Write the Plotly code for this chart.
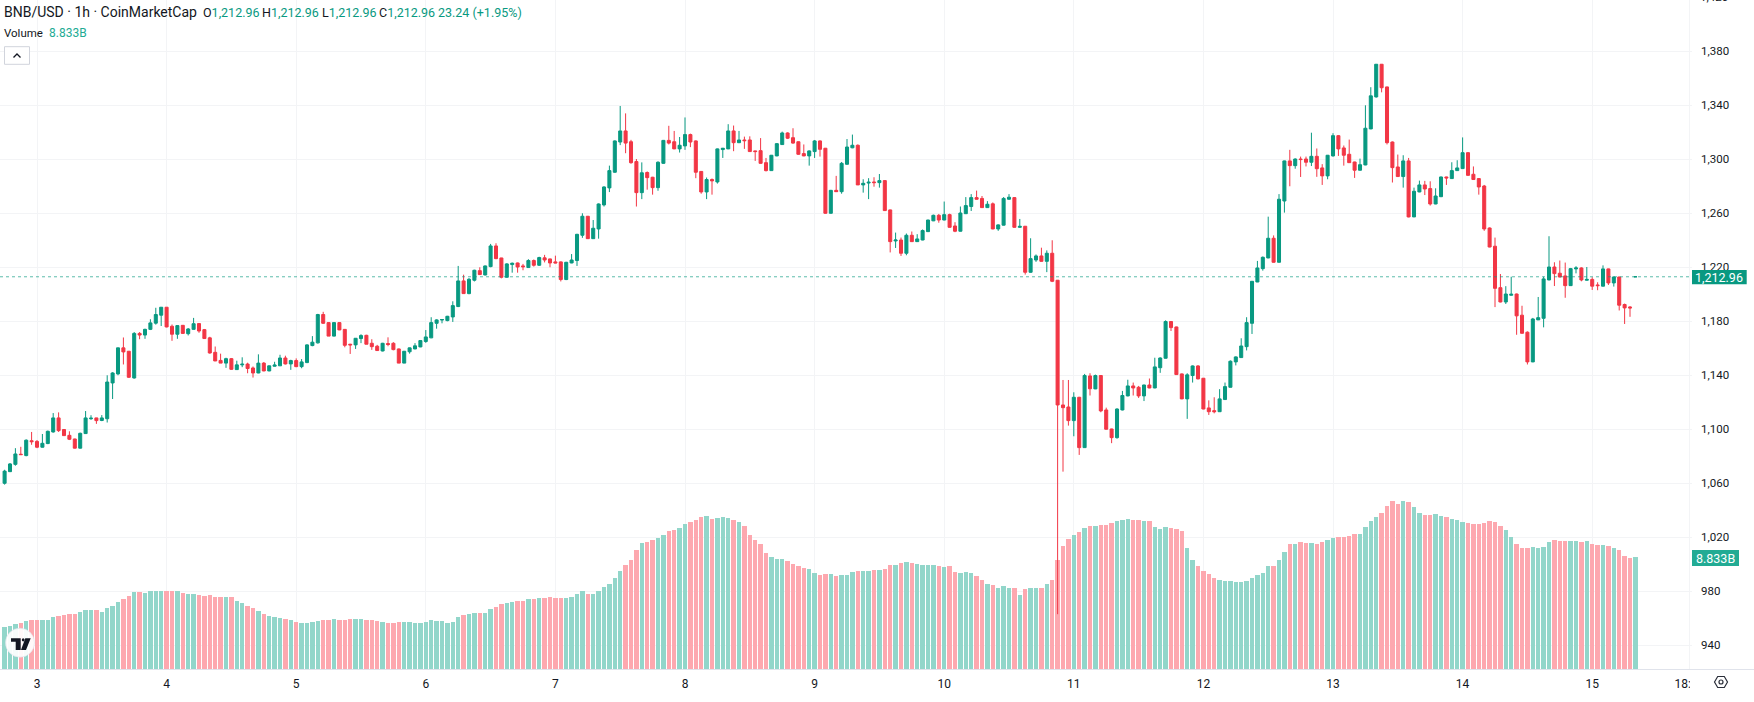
import pandas as pd
import plotly.graph_objects as go

START = "2025-10-02 18:00"

opens = [
1060,1068.6,1074,1081.5,1080.5,1091.5,1091,1086.7,1089.4,1098,
1108.4,1099.8,1095.5,1092.8,1086,1096.8,1107.8,1108.4,1106.5,1107.8,
1134.3,1141,1160.3,1157.8,1138,1171,1169.8,1174,1178.6,1184.5,
1190.4,1176.3,1170.4,1177,1170.8,1174,1178.3,1173.8,1167.7,1157,
1151,1149,1152.3,1144.2,1147.7,1148.3,1145.4,1141.7,1149,1143.2,
1146.7,1147,1152.8,1148.4,1150.9,1146.4,1149.4,1162,1164,1185,
1179,1169,1179,1174,1163,1162.5,1167.2,1169.6,1163.7,1161.5,
1158,1163.5,1163.7,1159.5,1149,1157.4,1159.5,1161,1165,1167.7,
1178.5,1180.9,1180.5,1183.2,1190.9,1209.9,1200.5,1210.4,1217.5,1214.3,
1220.5,1235.8,1226.9,1212.6,1222,1223.2,1221,1219.8,1225,1221.5,
1227,1226.2,1224,1224,1210.9,1223.2,1225,1243.7,1257.8,1241.2,
1248.4,1266.2,1278.8,1290.4,1312.8,1321,1313,1298.3,1275.3,1290.2,
1286.7,1279,1297,1314,1313,1307.7,1309.9,1318.3,1313.6,1291,
1275.8,1285,1283.2,1307.2,1307.7,1321,1312.3,1314.3,1314.3,1306.2,
1306.4,1297.5,1291.6,1302.5,1310.9,1319.5,1316,1313,1304.2,1302.5,
1305.7,1313.6,1308.2,1260,1277,1276,1296.3,1308.5,1310.4,1281,
1282.4,1283.2,1282.7,1284.2,1262.5,1239.5,1240.2,1230.4,1243.7,1239,
1240.2,1246.4,1254.4,1258.5,1255,1259,1250.6,1246.7,1259.7,1265,
1271.6,1271,1264.2,1267,1248.4,1251.2,1270.4,1271.6,1249.6,1250.4,
1216.3,1225.4,1228.4,1224.4,1230.4,1210.4,1118,1116.5,1106.4,1123.7,
1086.4,1139.5,1129.9,1139.8,1114.3,1100.2,1093.8,1114.3,1124.7,1132.1,
1131.1,1124.7,1132.8,1130.6,1145.6,1152.6,1179.8,1175.8,1141,1122.5,
1139.8,1146.9,1137.8,1115.8,1113.8,1113,1122,1131.1,1149.9,1153.1,
1161.2,1178.5,1209.1,1219,1226.9,1241.5,1223.7,1269.1,1298.8,1295.3,
1300.2,1300.2,1297.8,1302.2,1293.6,1287.7,1302.5,1317.5,1308.4,1303.7,
1298,1291.9,1295.8,1322.5,1346.2,1370.4,1353.6,1312.8,1294.3,1287.2,
1298.8,1257.3,1275.8,1281,1278.3,1266.9,1272.3,1286.9,1285.7,1291.6,
1293.1,1304.9,1288.9,1285.7,1280.2,1249.1,1235.6,1204.9,1194.3,1199.3,
1200.2,1184.5,1171.9,1149.9,1181,1182.2,1210.6,1220.2,1215.6,1213.6,
1206.4,1218.8,1219.5,1210.4,1211,1206.9,1206,1218.8,1208.4,1212.8,
1192.4,1190.6,1212.96]

closes = [
1069,1074.3,1081.7,1081.2,1091.9,1090.8,1086.7,1089.6,1098.5,1108.4,
1099,1095.3,1092.6,1086,1097,1108.4,1108.2,1106.4,1108.4,1135,
1141.7,1160.3,1157.3,1138.5,1171,1169.8,1174,1178.8,1185,1190.4,
1175.8,1170.4,1176.8,1171,1174.3,1178.2,1172.8,1167.2,1156.5,1150.6,
1149,1152.3,1144.4,1147.7,1148.2,1145,1141.7,1149,1143.2,1147,
1147.6,1152.8,1148.4,1150.9,1146.4,1149.9,1162.5,1164.5,1185,1178.5,
1169,1179,1173.6,1162.2,1162.5,1167.4,1169.4,1163,1161.2,1158.3,
1163.7,1162.8,1159,1149,1157.8,1160.3,1161.8,1165.7,1168.4,1179,
1181,1181.3,1183.7,1191.6,1209.9,1200.5,1211.1,1217.8,1214.6,1221,
1235.8,1226.4,1212.6,1222.5,1223,1220.2,1220.4,1225,1221.5,1227.2,
1225.4,1223.2,1223.2,1210.9,1223.7,1225.4,1244.4,1257.8,1241.2,1248.9,
1266.9,1279.5,1291.6,1313.6,1321,1312,1297.5,1275.3,1290,1286.4,
1279,1297.8,1314,1312,1307.7,1310.4,1318.3,1312.8,1290.4,1275.8,
1285,1284,1307.7,1308.2,1321,1312.3,1314.3,1313.8,1305.7,1305.7,
1297,1291.6,1303,1311.6,1319.5,1315.6,1312,1303.7,1302.5,1306.2,
1313.6,1307.4,1260,1277,1276,1297,1309.1,1310.4,1281,1282.2,
1283,1282.7,1284.2,1262,1239,1240.2,1230.4,1243.7,1239,1241,
1247.2,1255,1258.5,1255,1259,1249.6,1246.7,1260.2,1265.7,1271.6,
1270.4,1264.2,1266.7,1248.4,1251.4,1271,1271.9,1249.6,1250.3,1216.3,
1226.4,1228.4,1224.4,1230.4,1209.6,1118,1116,1106.4,1123.7,1086.4,
1139.8,1130,1139.8,1113.6,1100,1093.8,1115,1125,1132.1,1130.6,
1124.7,1132.8,1130.6,1146.2,1152.8,1179.8,1175.3,1140.5,1122.5,1140.3,
1146.9,1137.3,1115,1113,1113,1122.5,1131.6,1150.4,1153.6,1161.7,
1179,1209.6,1219.5,1227.4,1241.5,1223.7,1270.4,1298.8,1295.3,1300.2,
1299.8,1297.8,1302.2,1293,1287.7,1303,1317.5,1307.7,1303,1297.5,
1291.9,1296,1323,1347,1370.4,1353,1312.3,1293.8,1287.2,1298.8,
1257.3,1276.3,1281,1278,1266.9,1272.8,1286.9,1286.2,1291.6,1293.6,
1304.9,1288.1,1285,1279.5,1248.4,1235,1204.4,1194.3,1200.2,1200,
1184,1171.1,1149.9,1181.7,1182.7,1211.4,1220.2,1215.3,1212.8,1206.4,
1219,1219.5,1210.6,1211,1206,1206.4,1218.8,1208.4,1212.8,1191.9,
1189.9,1189.9,1212.96]

highs = [
1070,1075,1086,1087,1092.5,1098,1092,1096.5,1099,1112,
1112.5,1100,1098.5,1093,1097.5,1113.5,1110.4,1108.5,1110.5,1140,
1142.3,1160.5,1168,1158,1172,1172,1174.5,1181.5,1190,1190.5,
1190.5,1177.6,1177,1177.2,1175,1182.5,1178.5,1174.3,1168.5,1161.3,
1156,1153,1152.8,1150.8,1153.3,1149.3,1146.5,1155.5,1149.8,1147.2,
1150,1155.2,1154.5,1151.5,1152.5,1152,1163,1169,1185.5,1187,
1179.2,1179.2,1179.3,1174.2,1163.3,1167.6,1170.4,1170,1166.7,1162.5,
1164,1168.1,1164.5,1159.8,1158,1160.5,1163.8,1166,1173.5,1183,
1181.5,1181.5,1184,1194.8,1221,1214.5,1212,1218.2,1220,1221.3,
1237.3,1237.8,1227,1223,1223.5,1223.5,1222.5,1226,1225.8,1227.8,
1229.2,1226.4,1228.6,1224.3,1224,1229.8,1244.8,1260,1258,1255,
1267.3,1280,1295.3,1314,1339.5,1334,1314.4,1300.2,1297.7,1291,
1287,1298.5,1314.3,1324.8,1321,1316.5,1331,1319,1314,1291.2,
1286.5,1285.8,1308,1308.4,1326,1325,1321,1316.8,1317,1306.4,
1315.7,1301,1303.2,1312,1320.5,1320,1323,1313.2,1311,1306.6,
1314.3,1314,1308.4,1277.3,1287.7,1298,1315,1318.3,1311,1285.2,
1286,1286.7,1289.1,1284.4,1262.7,1245.7,1242,1245,1246.5,1244.5,
1248,1255.2,1259,1259.5,1268.7,1259.7,1253.4,1265,1272,1274.2,
1276.8,1272.8,1269,1268,1251.8,1272,1274.2,1272,1255.8,1250.6,
1241.5,1229.5,1234.5,1232.5,1240,1210.6,1136.5,1136.5,1127.4,1124,
1141,1141.5,1140.5,1140,1116,1100.4,1115.5,1128.4,1136.7,1134.6,
1132.1,1133,1137.6,1153,1153.3,1180.7,1180,1176,1141.3,1141.5,
1147.3,1147.5,1138,1121.4,1123.7,1129.7,1134.6,1151,1154,1167.4,
1183,1209.8,1224.7,1228,1257.5,1243.6,1274.2,1299,1307,1300.7,
1302,1302,1319.7,1308,1296.4,1303.2,1319.3,1318,1310.2,1314.6,
1298.2,1300.5,1340,1353.4,1370.6,1370.6,1353.8,1313.2,1303.5,1303,
1301,1279,1284.2,1284,1283.7,1278.5,1287.2,1287.1,1297.8,1299.3,
1316.2,1305.2,1294.7,1286,1281,1249.5,1242,1215,1206,1213,
1200.5,1191.5,1172.5,1182.5,1198,1213,1243,1223.7,1225,1223.5,
1219.5,1220.8,1220,1220.2,1212.6,1208.9,1221.4,1219,1213.2,1213,
1193.1,1191.2,1212.96]

lows = [
1059,1068.3,1073,1081,1080,1088.5,1086,1086.5,1089,1097.5,
1098,1095,1092,1085.8,1085.8,1096.5,1107,1104,1106,1105,
1122.4,1140,1148,1138,1137.5,1166.7,1167,1173.5,1177.5,1176.5,
1175.5,1165.5,1167,1171,1169.5,1173.8,1171.5,1167,1156,1150.5,
1149,1145.5,1144,1144,1146,1141.5,1138.3,1141.5,1143,1143,
1146.5,1147,1148,1144,1146,1145.2,1149,1161.5,1163.5,1178,
1169,1168.8,1173.4,1160.7,1155.8,1159.5,1163.8,1163,1158.8,1158,
1157.7,1161.5,1158.5,1149,1149,1156,1159.3,1160.8,1164,1167.5,
1174.5,1178.5,1180,1179.5,1190.5,1200.3,1200,1209.5,1214.3,1214,
1220,1226,1211.8,1212.4,1216,1216,1217.8,1219.5,1220.5,1221,
1223.6,1220,1223,1209.5,1210.5,1223,1221,1241.8,1241,1241,
1241.2,1265,1275.7,1290,1310.5,1304.5,1296.7,1265,1270.5,1277.5,
1273.8,1276.7,1296.7,1311,1307.5,1305,1307,1309,1286,1274.5,
1270.5,1273.8,1282,1301,1307.5,1306,1312,1307.7,1305.5,1298.8,
1296.8,1291,1291.4,1302.3,1310.7,1315,1311.5,1303.3,1302.3,1295.3,
1301,1302,1259.7,1259.8,1275.8,1274.5,1296,1308.2,1281,1275.3,
1270.5,1279.7,1279,1261.7,1231,1234.3,1228.4,1228.9,1238.8,1238.8,
1240,1246.2,1254.2,1253,1254.8,1249.4,1246,1246.5,1259.5,1261.7,
1270.2,1264,1264,1248.2,1247,1251,1270,1249.4,1249.3,1214.6,
1216,1224,1224.2,1216.4,1209,963,1068.6,1102.7,1094.8,1081,
1086.2,1125,1129.7,1112.6,1099.8,1089.7,1093,1114,1124.4,1125,
1123.2,1120.9,1130.4,1130.4,1141.8,1152.4,1172.8,1140.3,1122.3,1107.7,
1134.6,1137,1114.8,1110.6,1111.8,1112.8,1121.8,1131,1147.3,1153,
1158.4,1170.6,1209,1217.5,1226.7,1223.5,1223.5,1260.5,1280,1293,
1286.9,1294.7,1295,1287,1281,1285.2,1302,1302.5,1295.3,1297.3,
1286.2,1291.7,1295.6,1322.3,1345.7,1349.6,1311,1282.8,1287,1279,
1257,1257.2,1275.6,1273.5,1265.7,1266.7,1272,1281,1285.5,1291.4,
1293,1287.8,1284.8,1273.8,1247,1234.8,1190.5,1194,1192.8,1199,
1170,1170.9,1148,1149.7,1181,1175.5,1210.4,1206.1,1212.6,1197.4,
1206.2,1215.5,1209.6,1210.2,1203.2,1203,1205.8,1206.9,1205.7,1188,
1178,1183.3,1212.96]

volumes_b = [
3.32,3.37,3.56,3.64,3.77,3.87,3.87,3.87,3.87,4.11,
4.19,4.27,4.35,4.35,4.48,4.64,4.64,4.64,4.48,4.82,
4.98,5.27,5.53,5.77,6.06,6.06,5.98,6.14,6.14,6.14,
6.14,6.19,6.19,5.98,5.90,5.90,5.85,5.77,5.85,5.69,
5.69,5.69,5.69,5.40,5.19,4.98,4.82,4.56,4.35,4.19,
4.11,4.06,3.93,3.85,3.72,3.64,3.64,3.72,3.77,3.85,
3.85,3.98,3.85,3.85,3.93,3.93,3.93,3.85,3.85,3.77,
3.72,3.64,3.64,3.72,3.72,3.72,3.64,3.64,3.72,3.85,
3.77,3.77,3.64,3.72,4.11,4.27,4.35,4.43,4.43,4.43,
4.72,4.90,5.11,5.19,5.27,5.40,5.40,5.53,5.53,5.61,
5.61,5.69,5.61,5.61,5.61,5.69,5.90,6.14,5.90,5.90,
6.19,6.48,6.75,7.19,7.75,8.25,8.62,9.41,9.96,10.04,
10.17,10.38,10.59,10.88,11.01,11.15,11.46,11.59,11.80,12.02,
12.09,11.88,11.94,12.02,11.94,11.80,11.59,11.30,10.59,10.17,
9.88,9.17,8.83,8.67,8.67,8.54,8.33,8.12,7.96,7.88,
7.59,7.46,7.54,7.54,7.33,7.40,7.46,7.67,7.75,7.75,
7.75,7.83,7.83,7.88,8.25,8.25,8.38,8.46,8.38,8.33,
8.25,8.25,8.25,8.17,8.09,8.12,7.67,7.59,7.67,7.59,
7.33,7.04,6.75,6.61,6.40,6.53,6.40,6.40,5.82,6.32,
6.40,6.40,6.40,6.69,7.04,8.62,9.75,10.30,10.59,10.80,
11.17,11.30,11.30,11.38,11.38,11.52,11.73,11.80,11.88,11.80,
11.80,11.73,11.73,11.23,11.09,11.23,11.17,11.09,10.88,9.54,
8.62,8.12,7.75,7.48,7.19,7.04,6.96,6.96,6.90,6.90,
6.96,7.19,7.46,7.62,8.12,8.17,8.62,9.25,9.88,9.88,
10.04,9.96,9.96,9.88,10.04,10.17,10.38,10.46,10.46,10.51,
10.67,10.67,11.23,11.73,12.02,12.31,12.86,13.31,13.07,13.31,
13.23,12.81,12.31,12.15,12.15,12.23,12.09,12.02,11.88,11.80,
11.59,11.52,11.44,11.44,11.52,11.67,11.59,11.30,10.96,10.46,
9.88,9.54,9.54,9.67,9.54,9.67,10.04,10.17,10.09,10.09,
10.09,10.09,10.04,10.09,9.88,9.80,9.80,9.75,9.54,9.38,
8.96,8.75,8.833]

day_ticks = ["2025-10-%02d" % d for d in range(3, 16)] + ["2025-10-15 18:00"]
day_labels = [str(d) for d in range(3, 16)] + ["18:00"]
price_ticks = list(range(940, 1381, 40))
price_labels = [f"{p:,}" for p in price_ticks]
last_price = 1212.96

assert len({len(opens), len(closes), len(highs), len(lows), len(volumes_b)}) == 1, \
    (len(opens), len(closes), len(highs), len(lows), len(volumes_b))

W, H, PW, PH = 1754, 702, 1692, 669
GREEN, RED = "#089981", "#F23645"
TEAL = "#22AB94"
DARK = "#131722"
GRID = "#F3F4F6"
FONT = "Roboto"

def px(x):
    return x / PW

def py(y):
    return 1 - y / PH

times = pd.date_range(START, periods=len(opens), freq="h")
vol_colors = ["#92D6CA" if c >= o else "#FDA8AF" for o, c in zip(opens, closes)]
x_start = pd.Timestamp(START) + pd.Timedelta(hours=-0.852)
x_end = pd.Timestamp(START) + pd.Timedelta(hours=312.48)

fig = go.Figure()
fig.add_trace(go.Bar(x=times, y=volumes_b, marker=dict(color=vol_colors, line=dict(width=0)),
                     width=0.82 * 3600000, yaxis="y", xaxis="x", showlegend=False, hoverinfo="skip"))
fig.add_trace(go.Candlestick(x=times, open=opens, high=highs, low=lows, close=closes, yaxis="y2", xaxis="x",
                             increasing=dict(line=dict(color=GREEN, width=1), fillcolor=GREEN),
                             decreasing=dict(line=dict(color=RED, width=1), fillcolor=RED),
                             whiskerwidth=0, showlegend=False, hoverinfo="skip"))

shapes = []
def rect(x0, y0, x1, y1, fill, line=None, lw=0):
    shapes.append(dict(type="rect", xref="paper", yref="paper", x0=px(x0), x1=px(x1), y0=py(y1), y1=py(y0),
                       fillcolor=fill, line=dict(color=line or fill, width=lw), layer="above"))
def path(points, fill=None, line=None, lw=0, close=True):
    d = "M " + " L ".join(f"{px(a):.6f},{py(b):.6f}" for a, b in points) + (" Z" if close else "")
    shapes.append(dict(type="path", xref="paper", yref="paper", path=d, fillcolor=fill or "rgba(0,0,0,0)",
                       line=dict(color=line or "rgba(0,0,0,0)", width=lw), layer="above"))

# last price line
shapes.append(dict(type="line", xref="paper", yref="y2", x0=0, x1=1, y0=last_price, y1=last_price,
                   line=dict(color=GREEN, width=1, dash="dot"), opacity=0.65, layer="above"))
# clip of the time scale under the price scale + its rule
rect(1690, 670.2, W, H, "white")
shapes.append(dict(type="line", xref="paper", yref="paper", x0=1, x1=W / PW, y0=py(669.5), y1=py(669.5),
                   line=dict(color="#E0E3EB", width=1), layer="above"))
# price labels
rect(1692, 270, 1746.7, 284.3, GREEN)
rect(1692, 550, 1739, 566, TEAL)
# collapse button
shapes.append(dict(type="rect", xref="paper", yref="paper", x0=px(4.5), x1=px(29.5), y0=py(64.3), y1=py(46.7),
                   fillcolor="white", line=dict(color="#D1D4DC", width=1), layer="above"))
path([(13.5, 57.5), (17, 54), (20.5, 57.5)], line="#131722", lw=1.3, close=False)
# settings icon
path([(1714.5, 682), (1717.7, 676.5), (1724.3, 676.5), (1727.5, 682), (1724.3, 687.5), (1717.7, 687.5)],
     line="#2A2E39", lw=1.2)
shapes.append(dict(type="circle", xref="paper", yref="paper", x0=px(1719), x1=px(1723), y0=py(684), y1=py(680),
                   line=dict(color="#2A2E39", width=1.2), fillcolor="white", layer="above"))
# logo
shapes.append(dict(type="circle", xref="paper", yref="paper", x0=px(5.5), x1=px(34.5), y0=py(657.2), y1=py(628.2),
                   fillcolor="rgba(255,255,255,0.93)", line=dict(color="rgba(224,227,235,0.6)", width=1), layer="above"))
path([(11, 638.3), (20.7, 638.3), (20.7, 650), (15.7, 650), (15.7, 641.7), (11, 641.7)], fill=DARK)
path([(25.3, 638.3), (30.7, 638.3), (26, 650), (21, 650)], fill=DARK)
shapes.append(dict(type="circle", xref="paper", yref="paper", x0=px(21.8), x1=px(24.6), y0=py(641.4), y1=py(638.3),
                   fillcolor=DARK, line=dict(width=0), layer="above"))

def note(x, y, text, color=DARK, size=12.5, xanchor="left"):
    return dict(xref="paper", yref="paper", x=px(x), y=py(y), text=text, showarrow=False, xanchor=xanchor,
                yanchor="middle", font=dict(family=FONT, size=size, color=color), borderpad=0, borderwidth=0)

annotations = [
    note(4, 12, "BNB/USD · 1h · CoinMarketCap", size=14),
    note(203, 12, f'O<span style="color:{GREEN}">1,212.96</span>'),
    note(262, 12, f'H<span style="color:{GREEN}">1,212.96</span>'),
    note(322, 12, f'L<span style="color:{GREEN}">1,212.96</span>'),
    note(379, 12, f'C<span style="color:{GREEN}">1,212.96</span>'),
    note(438, 12, "23.24 (+1.95%)", color=GREEN),
    note(4, 33, "Volume", size=11.5),
    note(48.5, 33, "8.833B", color=TEAL, size=12),
    note(1699.5, -2.7, "1,420", color=DARK, size=11.5),
    note(1719.3, 277.2, "1,212.96", color="white", size=12.5, xanchor="center"),
    note(1715.5, 558, "8.833B", color="white", size=12.5, xanchor="center"),
]

fig.update_layout(
    width=W, height=H, margin=dict(l=0, r=W - PW, t=0, b=H - PH, pad=0),
    paper_bgcolor="white", plot_bgcolor="white", showlegend=False, hovermode=False,
    font=dict(family=FONT, size=11.5, color=DARK),
    boxgap=0.2, bargap=0,
    xaxis=dict(type="date", range=[x_start, x_end], rangeslider=dict(visible=False), tickmode="array",
               tickvals=day_ticks, ticktext=day_labels, showgrid=True, gridcolor=GRID, gridwidth=1,
               zeroline=False, showline=True, linecolor="#E0E3EB", linewidth=1, ticks="", tickangle=0,
               ticklabelstandoff=4, tickfont=dict(family=FONT, size=12, color=DARK), fixedrange=True),
    yaxis=dict(range=[0, PH / 12.65], visible=False, fixedrange=True),
    yaxis2=dict(range=[922.4, 1418], overlaying="y", side="right", anchor="x", tickmode="array",
                tickvals=price_ticks, ticktext=price_labels, showgrid=True, gridcolor=GRID, gridwidth=1,
                zeroline=False, showline=False, ticks="", ticklabelstandoff=8,
                tickfont=dict(family=FONT, size=11.5, color=DARK), fixedrange=True),
    shapes=shapes, annotations=annotations,
)

fig.write_html("out.html", config={"displayModeBar": False, "staticPlot": True},
               post_script="document.body.style.margin='0';document.documentElement.style.overflow='hidden';")
